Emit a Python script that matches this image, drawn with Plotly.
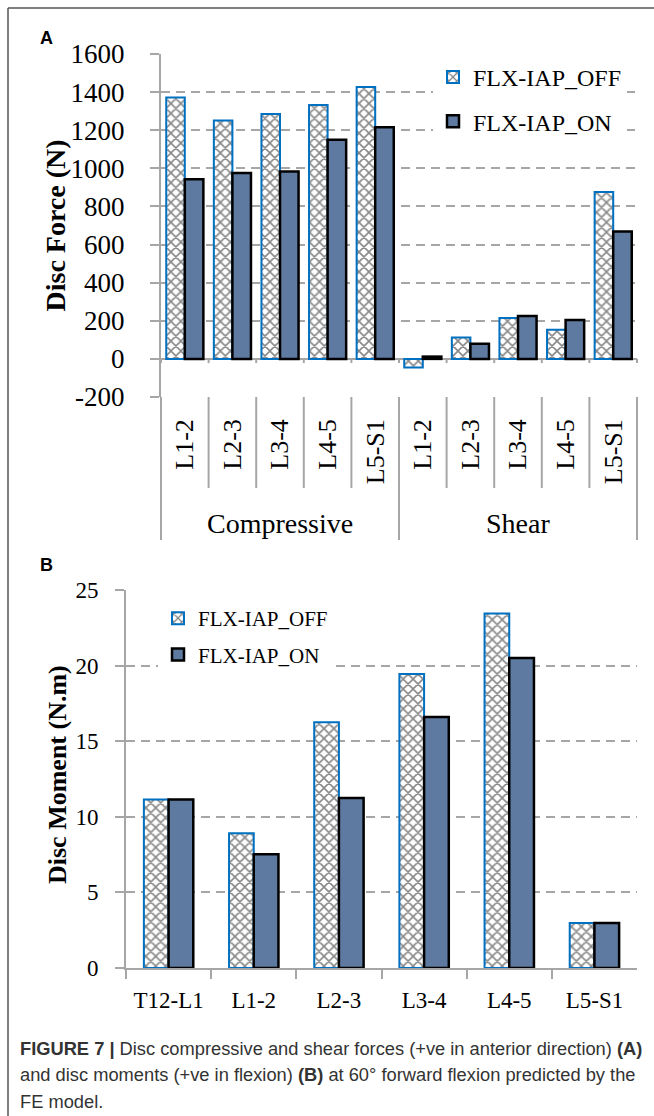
import plotly.graph_objects as go

# ---------------- data ----------------
segments_a = ["L1-2", "L2-3", "L3-4", "L4-5", "L5-S1"]
groups_a = ["Compressive", "Shear"]
compressive_off = [1372, 1251, 1285, 1333, 1427]
compressive_on = [943, 975, 983, 1150, 1215]
shear_off = [-45, 112, 214, 153, 876]
shear_on = [12, 80, 225, 204, 668]
ticks_a = [-200, 0, 200, 400, 600, 800, 1000, 1200, 1400, 1600]

segments_b = ["T12-L1", "L1-2", "L2-3", "L3-4", "L4-5", "L5-S1"]
moment_off = [11.15, 8.92, 16.25, 19.45, 23.45, 2.98]
moment_on = [11.15, 7.53, 11.25, 16.6, 20.5, 2.98]
ticks_b = [0, 5, 10, 15, 20, 25]

name_off = "FLX-IAP_OFF"
name_on = "FLX-IAP_ON"

# ---------------- style ----------------
W, H = 654, 1116
SERIF = "Liberation Serif"
SANS = "Liberation Sans"
GRAY = "#A6A6A6"
BLUE = "#0070C0"
SLATE = "#5E7AA1"


def fx(p):
    return p / W


def fy(p):
    return 1 - p / H


# unique category keys (group + segment) for panel A, labelled by segment
keys_a = [f"{g} {s}" for g in groups_a for s in segments_a]
labels_a = [s for g in groups_a for s in segments_a]
off_a = compressive_off + shear_off
on_a = compressive_on + shear_on

fig = go.Figure()

pattern = dict(shape="x", fgcolor="#111111", bgcolor="white", size=7, solidity=0.4)

fig.add_trace(go.Bar(
    x=keys_a, y=off_a, name=name_off, xaxis="x", yaxis="y",
    offset=-0.39, width=0.39,
    marker=dict(color="white", pattern=pattern, line=dict(color=BLUE, width=2)),
    legend="legend", legendgroup="a_off",
))
fig.add_trace(go.Bar(
    x=keys_a, y=on_a, name=name_on, xaxis="x", yaxis="y",
    offset=0, width=0.39,
    marker=dict(color=SLATE, line=dict(color="black", width=2.5)),
    legend="legend", legendgroup="a_on",
))
fig.add_trace(go.Bar(
    x=segments_b, y=moment_off, name=name_off, xaxis="x2", yaxis="y2",
    offset=-0.29, width=0.29,
    marker=dict(color="white", pattern=pattern, line=dict(color=BLUE, width=2)),
    legend="legend2", legendgroup="b_off",
))
fig.add_trace(go.Bar(
    x=segments_b, y=moment_on, name=name_on, xaxis="x2", yaxis="y2",
    offset=0, width=0.29,
    marker=dict(color=SLATE, line=dict(color="black", width=2.5)),
    legend="legend2", legendgroup="b_on",
))

# plot areas in pixels
A_L, A_R, A_T, A_B = 161, 637, 54, 397
B_L, B_R, B_T, B_B = 126, 637, 590, 968

grid = dict(showgrid=True, gridcolor=GRAY, gridwidth=2, griddash="9px,6px")

fig.update_layout(
    width=W, height=H, autosize=False,
    margin=dict(l=0, r=0, t=0, b=0, pad=0, autoexpand=False),
    paper_bgcolor="white", plot_bgcolor="white",
    showlegend=True,
    xaxis=dict(
        domain=[fx(A_L), fx(A_R)], anchor="y", type="category", automargin=False,
        tickvals=keys_a, ticktext=labels_a,
        showline=False, ticks="",
        tickangle=-90, ticklabelstandoff=16,
        tickfont=dict(family=SERIF, size=26, color="black"),
        showgrid=False, zeroline=False,
    ),
    yaxis=dict(
        domain=[fy(A_B), fy(A_T)], anchor="x", automargin=False,
        range=[ticks_a[0], ticks_a[-1]], tickvals=ticks_a,
        ticktext=[str(t) for t in ticks_a],
        showline=True, linecolor=GRAY, linewidth=2,
        ticks="outside", ticklen=9, tickcolor=GRAY, tickwidth=2,
        ticklabelstandoff=20,
        tickfont=dict(family=SERIF, size=27, color="black"),
        zeroline=True, zerolinecolor=GRAY, zerolinewidth=2,
        **grid,
    ),
    xaxis2=dict(
        domain=[fx(B_L), fx(B_R)], anchor="y2", type="category", automargin=False,
        showline=True, linecolor=GRAY, linewidth=2,
        ticks="outside", tickson="boundaries", ticklen=9, tickcolor=GRAY, tickwidth=2,
        ticklabelstandoff=10,
        tickfont=dict(family=SERIF, size=23, color="black"),
        showgrid=False, zeroline=False,
    ),
    yaxis2=dict(
        domain=[fy(B_B), fy(B_T)], anchor="x2", automargin=False,
        range=[ticks_b[0], ticks_b[-1]], tickvals=ticks_b,
        ticktext=[str(t) for t in ticks_b],
        showline=True, linecolor=GRAY, linewidth=2,
        ticks="outside", ticklen=9, tickcolor=GRAY, tickwidth=2,
        ticklabelstandoff=12,
        tickfont=dict(family=SERIF, size=23, color="black"),
        zeroline=False,
        **grid,
    ),
    legend=dict(
        x=fx(433), y=fy(55), xanchor="left", yanchor="top",
        bgcolor="white", tracegroupgap=10,
        font=dict(family=SERIF, size=24, color="black"),
    ),
    legend2=dict(
        x=fx(158), y=fy(598), xanchor="left", yanchor="top",
        bgcolor="white", tracegroupgap=6,
        font=dict(family=SERIF, size=21, color="black"),
    ),
)

shapes = []
# frame (top and left)
shapes.append(dict(type="line", xref="paper", yref="paper", x0=fx(8), x1=1, y0=fy(8), y1=fy(8),
                   line=dict(color="#555555", width=1.5)))
shapes.append(dict(type="line", xref="paper", yref="paper", x0=fx(8), x1=fx(8), y0=fy(8), y1=0,
                   line=dict(color="#555555", width=1.5)))
n_a = len(keys_a)
per_group = len(segments_a)
for i in range(n_a + 1):
    xf = i / n_a
    outer = (i % per_group == 0)
    # separators in label area
    shapes.append(dict(type="line", xref="x domain", yref="paper", x0=xf, x1=xf,
                       y0=fy(A_B), y1=fy(540 if outer else 488),
                       line=dict(color=GRAY, width=2)))
    # small ticks under zero line
    shapes.append(dict(type="line", xref="x domain", yref="y", x0=xf, x1=xf,
                       y0=0, y1=-22, line=dict(color=GRAY, width=2)))
fig.update_layout(shapes=shapes)

ann = []
# group labels under panel A
for gi, g in enumerate(groups_a):
    ann.append(dict(text=g, x=(gi + 0.5) / len(groups_a), y=fy(523), xref="x domain", yref="paper",
                    xanchor="center", yanchor="middle", showarrow=False,
                    font=dict(family=SERIF, size=28, color="black")))
ann.append(dict(text="<b>A</b>", x=fx(46), y=fy(38), xref="paper", yref="paper", showarrow=False,
                xanchor="center", yanchor="middle",
                font=dict(family=SANS, size=18, color="black")))
ann.append(dict(text="<b>B</b>", x=fx(46), y=fy(565), xref="paper", yref="paper", showarrow=False,
                xanchor="center", yanchor="middle",
                font=dict(family=SANS, size=18, color="black")))
ann.append(dict(text="<b>Disc Force (N)</b>", x=fx(55), y=fy((A_T + A_B) / 2), xref="paper", yref="paper",
                xanchor="center", yanchor="middle",
                showarrow=False, textangle=-90, font=dict(family=SERIF, size=28, color="black")))
ann.append(dict(text="<b>Disc Moment (N.m)</b>", x=fx(57), y=fy(775), xref="paper", yref="paper",
                xanchor="center", yanchor="middle",
                showarrow=False, textangle=-90, font=dict(family=SERIF, size=26, color="black")))
caption = [
    "<b>FIGURE 7 |</b> Disc compressive and shear forces (+ve in anterior direction) <b>(A)</b>",
    "and disc moments (+ve in flexion) <b>(B)</b> at 60° forward flexion predicted by the",
    "FE model.",
]
for k, line in enumerate(caption):
    ann.append(dict(text=line, x=fx(18), y=fy(1048 + 26.5 * k), xref="paper", yref="paper",
                    xanchor="left", yanchor="middle", showarrow=False,
                    font=dict(family=SANS, size=18.3, color="#333333")))
fig.update_layout(annotations=ann)

fig.write_html(
    "out.html",
    config={"displayModeBar": False},
    post_script=(
        "var gd=document.getElementById('{plot_id}');"
        "gd.style.position='fixed';gd.style.top='0px';gd.style.left='0px';"
        "document.body.style.margin='0px';document.body.style.overflow='hidden';"
        "document.documentElement.style.overflow='hidden';"
    ),
)
